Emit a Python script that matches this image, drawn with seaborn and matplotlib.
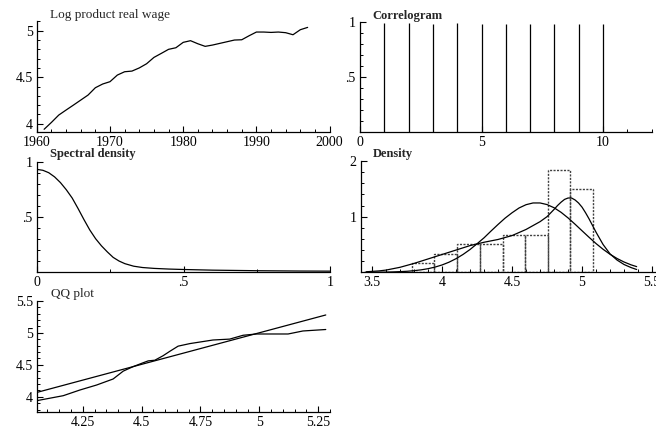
import numpy as np
import pandas as pd
import matplotlib
matplotlib.use("Agg")
import matplotlib.pyplot as plt
from matplotlib.ticker import MultipleLocator
import seaborn as sns

sns.set_theme(style="ticks")
plt.rcParams["font.family"] = ["Liberation Serif", "DejaVu Sans"]

# log product real wage, 1961-1997
years = list(range(1961, 1998))
wage = [3.94, 4.014, 4.093, 4.147, 4.20, 4.254, 4.308, 4.387, 4.427, 4.452,
        4.523, 4.559, 4.566, 4.60, 4.645, 4.713, 4.756, 4.80, 4.817, 4.875,
        4.893, 4.86, 4.832, 4.846, 4.864, 4.882, 4.90, 4.903, 4.946, 4.986,
        4.986, 4.982, 4.986, 4.979, 4.957, 5.011, 5.036]

# correlogram
lags = [1, 2, 3, 4, 5, 6, 7, 8, 9, 10]
acf = [0.99, 0.99, 0.98, 0.99, 0.98, 0.98, 0.98, 0.98, 0.98, 0.98]

# spectral density
freq = [0, 0.02, 0.04, 0.06, 0.08, 0.10, 0.12, 0.14, 0.16, 0.18, 0.20, 0.22,
        0.24, 0.26, 0.28, 0.30, 0.33, 0.36, 0.40, 0.45, 0.5, 0.6, 0.75, 0.9, 1.0]
spec = [0.93, 0.922, 0.90, 0.862, 0.81, 0.745, 0.67, 0.575, 0.475, 0.38, 0.30,
        0.235, 0.18, 0.13, 0.097, 0.073, 0.05, 0.038, 0.03, 0.024, 0.02, 0.014,
        0.009, 0.006, 0.005]

# histogram + densities
bin_edges = [3.784, 3.945, 4.105, 4.271, 4.434, 4.593, 4.755, 4.914, 5.081]
bin_heights = [0.167, 0.333, 0.5, 0.5, 0.667, 0.667, 1.833, 1.5]
normal_x = [3.45, 3.5, 3.55, 3.6, 3.65, 3.7, 3.75, 3.8, 3.85, 3.9, 3.95, 4.0,
            4.05, 4.1, 4.15, 4.2, 4.25, 4.3, 4.35, 4.4, 4.45, 4.5, 4.55, 4.6,
            4.65, 4.7, 4.75, 4.8, 4.85, 4.9, 4.95, 5.0, 5.05, 5.1, 5.15, 5.2,
            5.25, 5.3, 5.35, 5.39]
normal_y = [0.001, 0.0014, 0.0025, 0.004, 0.007, 0.012, 0.0185, 0.029, 0.044,
            0.065, 0.094, 0.132, 0.182, 0.245, 0.321, 0.41, 0.513, 0.62, 0.742,
            0.86, 0.973, 1.07, 1.156, 1.215, 1.246, 1.246, 1.217, 1.16, 1.078,
            0.977, 0.864, 0.746, 0.629, 0.516, 0.414, 0.324, 0.248, 0.185,
            0.134, 0.102]
kernel_x = [3.46, 3.55, 3.6, 3.7, 3.8, 3.9, 4.0, 4.1, 4.2, 4.3, 4.4, 4.5, 4.6,
            4.65, 4.7, 4.75, 4.8, 4.825, 4.85, 4.875, 4.9, 4.925, 4.95, 4.975,
            5.0, 5.025, 5.05, 5.075, 5.1, 5.15, 5.2, 5.25, 5.3, 5.35, 5.39]
kernel_y = [0.01, 0.025, 0.04, 0.09, 0.16, 0.24, 0.32, 0.40, 0.48, 0.54, 0.59,
            0.66, 0.77, 0.84, 0.91, 1.0, 1.13, 1.20, 1.26, 1.31, 1.335, 1.335,
            1.30, 1.245, 1.17, 1.07, 0.96, 0.84, 0.72, 0.50, 0.33, 0.22, 0.14,
            0.085, 0.05]

# QQ plot
qq_x = [4.057, 4.167, 4.238, 4.309, 4.379, 4.422, 4.464, 4.506, 4.528, 4.556,
        4.591, 4.62, 4.655, 4.705, 4.803, 4.874, 4.931, 4.988, 5.058, 5.122,
        5.185, 5.282]
qq_y = [3.94, 4.016, 4.105, 4.183, 4.277, 4.40, 4.47, 4.53, 4.56, 4.57,
        4.64, 4.71, 4.79, 4.83, 4.886, 4.90, 4.96, 4.98, 4.98, 4.98,
        5.027, 5.05]
ref_x = [4.057, 5.282]
ref_y = [4.069, 5.277]

W, H = 656, 433
fig = plt.figure(figsize=(W / 100, H / 100), dpi=100)
fig.patch.set_facecolor("white")


def place(x0, x1, top, bottom):
    ax = fig.add_axes([x0 / W, 1 - bottom / H, (x1 - x0) / W, (bottom - top) / H])
    ax.set_facecolor("white")
    sns.despine(ax=ax)
    for s in ["left", "bottom"]:
        ax.spines[s].set_color("black")
        ax.spines[s].set_linewidth(0.9)
    ax.tick_params(which="major", direction="in", length=4, width=0.8,
                   labelsize=10, colors="black", pad=3)
    ax.tick_params(which="minor", direction="in", length=2.5, width=0.7,
                   colors="black")
    return ax


def title(x, y, s, bold=False):
    fig.text(x / W, 1 - y / H, s, fontsize=9 if bold else 9.5, ha="left",
             va="baseline", fontweight="bold" if bold else "normal")


lw = 0.9

# Log product real wage
ax1 = place(36.8, 329.6, 20.7, 131.7)
sns.lineplot(x=years, y=wage, ax=ax1, color="black", lw=lw)
ax1.set_xlim(1960, 2000)
ax1.set_ylim(3.914, 5.108)
ax1.set_xticks([1960, 1970, 1980, 1990, 2000])
ax1.xaxis.set_minor_locator(MultipleLocator(2))
ax1.set_yticks([4, 4.5, 5], ["4", "4.5", "5"])
ax1.yaxis.set_minor_locator(MultipleLocator(0.1))
title(50, 18, "Log product real wage")

# Correlogram
ax2 = place(360, 651.6, 21.7, 131.7)
ax2.vlines(lags, 0, acf, color="black", lw=lw)
ax2.set_xlim(0, 12)
ax2.set_ylim(0, 1)
ax2.set_xticks([0, 5, 10])
ax2.xaxis.set_minor_locator(MultipleLocator(1))
ax2.set_yticks([0.5, 1], [".5", "1"])
ax2.yaxis.set_minor_locator(MultipleLocator(0.1))
title(372, 19, "Correlogram", bold=True)

# Spectral density
ax3 = place(37, 330, 161.7, 271.7)
sns.lineplot(x=freq, y=spec, ax=ax3, color="black", lw=lw)
ax3.set_xlim(0, 1)
ax3.set_ylim(0, 1)
ax3.set_xticks([0, 0.5, 1], ["0", ".5", "1"])
ax3.xaxis.set_minor_locator(MultipleLocator(0.25))
ax3.set_yticks([0.5, 1], [".5", "1"])
ax3.yaxis.set_minor_locator(MultipleLocator(0.1))
title(50, 157.5, "Spectral density", bold=True)

# Density
ax4 = place(361, 655, 161, 272.3)
centers = [(a + b) / 2 for a, b in zip(bin_edges[:-1], bin_edges[1:])]
sns.histplot(x=centers, weights=bin_heights, bins=bin_edges, ax=ax4,
             fill=False, color="0.25", linewidth=1.0, linestyle=(0, (1.5, 1)))
sns.lineplot(x=normal_x, y=normal_y, ax=ax4, color="black", lw=lw)
sns.lineplot(x=kernel_x, y=kernel_y, ax=ax4, color="black", lw=lw)
ax4.set_xlim(3.421, 5.521)
ax4.set_ylim(0, 2)
ax4.set_xticks([3.5, 4, 4.5, 5, 5.5], ["3.5", "4", "4.5", "5", "5.5"])
ax4.xaxis.set_minor_locator(MultipleLocator(0.1))
ax4.set_yticks([1, 2], ["1", "2"])
ax4.yaxis.set_minor_locator(MultipleLocator(0.2))
title(373, 157.5, "Density", bold=True)

# QQ plot
ax5 = place(37.3, 330, 300.7, 411.7)
sns.lineplot(x=qq_x, y=qq_y, ax=ax5, color="black", lw=lw, sort=False)
sns.lineplot(x=ref_x, y=ref_y, ax=ax5, color="black", lw=lw)
ax5.set_xlim(4.057, 5.30)
ax5.set_ylim(3.766, 5.5)
ax5.set_xticks([4.25, 4.5, 4.75, 5, 5.25], ["4.25", "4.5", "4.75", "5", "5.25"])
ax5.xaxis.set_minor_locator(MultipleLocator(0.05))
ax5.set_yticks([4, 4.5, 5, 5.5], ["4", "4.5", "5", "5.5"])
ax5.yaxis.set_minor_locator(MultipleLocator(0.1))
title(51, 297, "QQ plot")

for ax in [ax1, ax2, ax3, ax4, ax5]:
    ax.set_xlabel("")
    ax.set_ylabel("")

fig.savefig("out.png", dpi=100)
